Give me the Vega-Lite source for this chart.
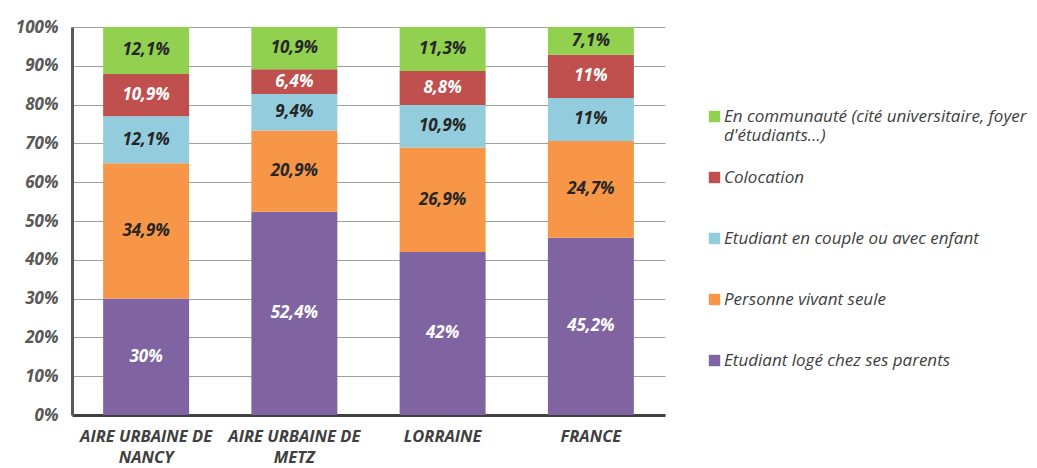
{
  "$schema": "https://vega.github.io/schema/vega-lite/v6.json",
  "width": 593,
  "height": 388,
  "autosize": {"type": "none"},
  "padding": {"left": 72, "top": 27, "right": 372, "bottom": 53},
  "background": "white",
  "config": {"font": "Open Sans", "view": {"stroke": null}},
  "data": {
    "values": [
      {"region": "AIRE URBAINE DE NANCY", "type": "Etudiant logé chez ses parents", "ord": 1, "value": 30},
      {"region": "AIRE URBAINE DE NANCY", "type": "Personne vivant seule", "ord": 2, "value": 34.9},
      {"region": "AIRE URBAINE DE NANCY", "type": "Etudiant en couple ou avec enfant", "ord": 3, "value": 12.1},
      {"region": "AIRE URBAINE DE NANCY", "type": "Colocation", "ord": 4, "value": 10.9},
      {"region": "AIRE URBAINE DE NANCY", "type": "En communauté (cité universitaire, foyer d'étudiants…)", "ord": 5, "value": 12.1},
      {"region": "AIRE URBAINE DE METZ", "type": "Etudiant logé chez ses parents", "ord": 1, "value": 52.4},
      {"region": "AIRE URBAINE DE METZ", "type": "Personne vivant seule", "ord": 2, "value": 20.9},
      {"region": "AIRE URBAINE DE METZ", "type": "Etudiant en couple ou avec enfant", "ord": 3, "value": 9.4},
      {"region": "AIRE URBAINE DE METZ", "type": "Colocation", "ord": 4, "value": 6.4},
      {"region": "AIRE URBAINE DE METZ", "type": "En communauté (cité universitaire, foyer d'étudiants…)", "ord": 5, "value": 10.9},
      {"region": "LORRAINE", "type": "Etudiant logé chez ses parents", "ord": 1, "value": 42},
      {"region": "LORRAINE", "type": "Personne vivant seule", "ord": 2, "value": 26.9},
      {"region": "LORRAINE", "type": "Etudiant en couple ou avec enfant", "ord": 3, "value": 10.9},
      {"region": "LORRAINE", "type": "Colocation", "ord": 4, "value": 8.8},
      {"region": "LORRAINE", "type": "En communauté (cité universitaire, foyer d'étudiants…)", "ord": 5, "value": 11.3},
      {"region": "FRANCE", "type": "Etudiant logé chez ses parents", "ord": 1, "value": 45.2},
      {"region": "FRANCE", "type": "Personne vivant seule", "ord": 2, "value": 24.7},
      {"region": "FRANCE", "type": "Etudiant en couple ou avec enfant", "ord": 3, "value": 11},
      {"region": "FRANCE", "type": "Colocation", "ord": 4, "value": 11},
      {"region": "FRANCE", "type": "En communauté (cité universitaire, foyer d'étudiants…)", "ord": 5, "value": 7.1}
    ]
  },
  "transform": [
    {"stack": "value", "groupby": ["region"], "sort": [{"field": "ord", "order": "ascending"}], "offset": "normalize", "as": ["y0", "y1"]},
    {"calculate": "(datum.y0 + datum.y1) / 2", "as": "ymid"}
  ],
  "encoding": {
    "x": {
      "field": "region",
      "type": "nominal",
      "sort": ["AIRE URBAINE DE NANCY", "AIRE URBAINE DE METZ", "LORRAINE", "FRANCE"],
      "scale": {"paddingInner": 0.42, "paddingOuter": 0.21},
      "axis": {
        "title": null,
        "labelAngle": 0,
        "domainColor": "#404040",
        "domainWidth": 3,
        "ticks": false,
        "grid": false,
        "labelFont": "Open Sans",
        "labelFontStyle": "italic",
        "labelFontWeight": "bold",
        "labelFontSize": 16.5,
        "labelColor": "#404040",
        "labelPadding": 13,
        "labelLineHeight": 21,
        "labelLimit": 300,
        "labelOverlap": false,
        "labelExpr": "indexof(datum.label, 'AIRE URBAINE DE ') == 0 ? ['AIRE URBAINE DE', substring(datum.label, 16)] : datum.label"
      }
    },
    "y": {
      "type": "quantitative",
      "scale": {"domain": [0, 1], "nice": false},
      "axis": {
        "title": null,
        "values": [0, 0.1, 0.2, 0.3, 0.4, 0.5, 0.6, 0.7, 0.8, 0.9, 1],
        "format": ".0%",
        "grid": true,
        "gridColor": "#a0a0a0",
        "gridWidth": 1.2,
        "gridOpacity": 1,
        "domainColor": "#595959",
        "domainWidth": 3,
        "ticks": false,
        "labelOverlap": false,
        "labelPadding": 14,
        "labelFont": "Open Sans",
        "labelFontStyle": "italic",
        "labelFontWeight": "bold",
        "labelFontSize": 17,
        "labelColor": "#595959"
      }
    }
  },
  "layer": [
    {
      "mark": {"type": "bar"},
      "encoding": {
        "y": {"field": "y0"},
        "y2": {"field": "y1"},
        "color": {
          "field": "type",
          "type": "nominal",
          "scale": {
            "domain": ["En communauté (cité universitaire, foyer d'étudiants…)", "Colocation", "Etudiant en couple ou avec enfant", "Personne vivant seule", "Etudiant logé chez ses parents"],
            "range": ["#92D050", "#C0504D", "#93CDDD", "#F79646", "#8064A2"]
          },
          "legend": {
            "orient": "none",
            "legendX": 634,
            "legendY": 81,
            "title": null,
            "symbolType": "square",
            "symbolSize": 130,
            "symbolStrokeWidth": 0,
            "labelOffset": 1,
            "labelFont": "Open Sans",
            "labelFontStyle": "italic",
            "labelFontSize": 17,
            "labelColor": "#404040",
            "labelLimit": 400,
            "rowPadding": 24,
            "labelExpr": "indexof(datum.label, 'En comm') == 0 ? ['En communauté (cité universitaire, foyer', \"d'étudiants…)\"] : [datum.label, ' ']"
          }
        }
      }
    },
    {
      "mark": {
        "type": "text",
        "font": "Open Sans",
        "fontStyle": "italic",
        "fontWeight": "bold",
        "fontSize": 17,
        "text": {"expr": "replace(format(datum.value, '.1~f'), '.', ',') + '%'"}
      },
      "encoding": {
        "y": {"field": "ymid"},
        "color": {
          "condition": {"test": "datum.type == 'Colocation' || datum.type == 'Etudiant logé chez ses parents'", "value": "#ffffff"},
          "value": "#262626"
        }
      }
    }
  ]
}
